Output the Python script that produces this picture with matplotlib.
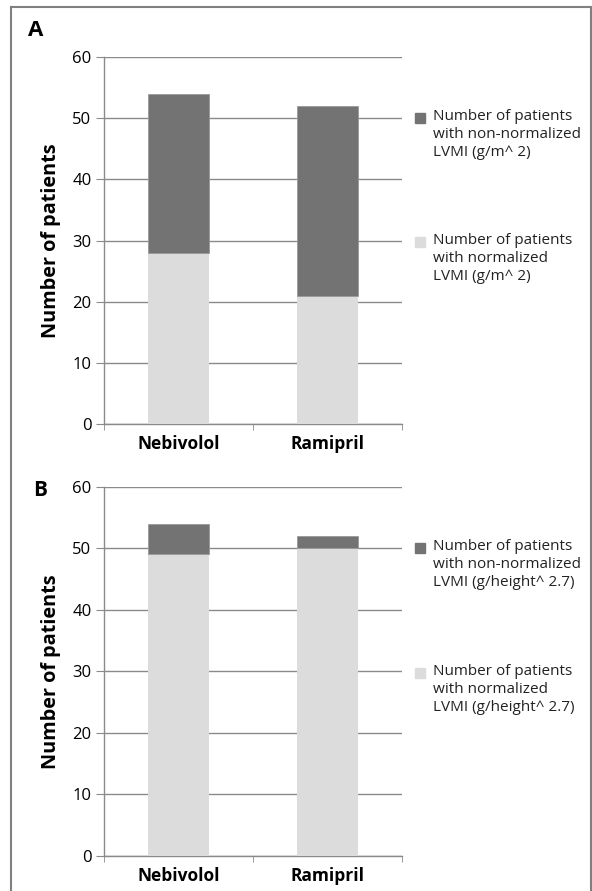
import numpy as np
from matplotlib import pyplot as plt
from matplotlib.patches import Rectangle
from matplotlib.lines import Line2D

plt.rcParams['font.family'] = ['Open Sans', 'DejaVu Sans']

# Data
drugs = ["Nebivolol", "Ramipril"]
normal_a = [28, 21]
nonnormal_a = [26, 31]
normal_b = [49, 50]
nonnormal_b = [5, 2]
yticks = [0, 10, 20, 30, 40, 50, 60]
labels_a = ["Number of patients\nwith non-normalized\nLVMI (g/m^ 2)",
            "Number of patients\nwith normalized\nLVMI (g/m^ 2)"]
labels_b = ["Number of patients\nwith non-normalized\nLVMI (g/height^ 2.7)",
            "Number of patients\nwith normalized\nLVMI (g/height^ 2.7)"]

dark = "#737373"
light = "#dcdcdc"
gridc = "#8a8a8a"

fig = plt.figure(figsize=(5.92, 8.91), dpi=100)


def panel(rect, normal, nonnormal, labels):
    ax = fig.add_axes(rect)
    x = np.arange(len(drugs))
    ax.bar(x, normal, width=0.41, color=light, zorder=3)
    ax.bar(x, nonnormal, width=0.41, bottom=normal, color=dark,
           edgecolor="#999999", linewidth=0.6, zorder=3)
    ax.set_xlim(-0.5, 1.5)
    ax.set_ylim(0, 60)
    ax.set_yticks(yticks)
    ax.yaxis.grid(True, color=gridc, linewidth=1.0, zorder=0)
    ax.set_xticks(x)
    ax.set_xticklabels(drugs, fontsize=12.5, fontweight="bold")
    ax.set_xticks([-0.5, 0.5, 1.5], minor=True)
    ax.tick_params(axis="x", which="major", length=0, pad=8)
    ax.tick_params(axis="x", which="minor", length=4, color=gridc, direction="out")
    ax.tick_params(axis="y", length=6, color=gridc, labelsize=12, pad=3)
    for s in ["top", "right"]:
        ax.spines[s].set_visible(False)
    for s in ["left", "bottom"]:
        ax.spines[s].set_color(gridc)
        ax.spines[s].set_linewidth(1.0)
    ax.set_ylabel("Number of patients", fontsize=14.3, fontweight="bold", labelpad=8)
    # legend drawn by hand so the square sits on the first text line
    for col, lab, ys in zip([dark, light], labels, [0.834, 0.496]):
        ax.add_patch(Rectangle((1.045, ys - 0.0135), 0.034, 0.027, color=col,
                               transform=ax.transAxes, clip_on=False))
        ax.text(1.105, ys + 0.024, lab, transform=ax.transAxes, va="top",
                ha="left", fontsize=11, linespacing=1.28, color="#222222")
    return ax


panel([0.1757, 0.5241, 0.503, 0.4119], normal_a, nonnormal_a, labels_a)
panel([0.1757, 0.0393, 0.503, 0.4145], normal_b, nonnormal_b, labels_b)

fig.text(36 / 592, 1 - 30 / 891, "A", fontsize=16, fontweight="bold",
         va="center", ha="center")
fig.text(40 / 592, 1 - 490 / 891, "B", fontsize=15, fontweight="bold",
         va="center", ha="center")

# outer frame (left, top, right)
for xs, ys in [([11 / 592, 11 / 592], [0, 1 - 7 / 891]),
               ([11 / 592, 591 / 592], [1 - 7 / 891, 1 - 7 / 891]),
               ([591 / 592, 591 / 592], [0, 1 - 7 / 891])]:
    fig.add_artist(Line2D(xs, ys, color="#808080", linewidth=1.5,
                          transform=fig.transFigure))

fig.savefig("out.png", dpi=100)
